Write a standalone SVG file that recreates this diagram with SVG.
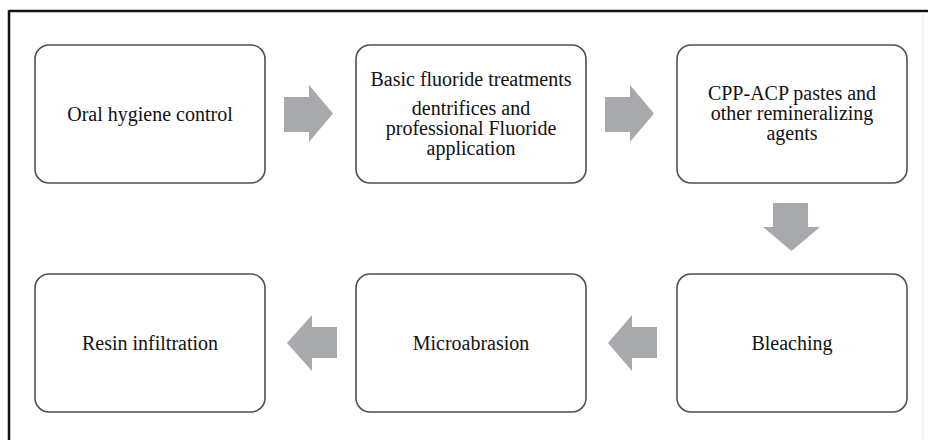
<svg xmlns="http://www.w3.org/2000/svg" width="928" height="440" viewBox="0 0 928 440">
<style>
.box{fill:#fff;stroke:#505050;stroke-width:1.6}
.t{font-family:"Liberation Serif","Times New Roman","DejaVu Serif",serif;font-size:20px;fill:#111;text-anchor:middle}
.arr{fill:#a7a9ac}
</style>
<rect width="928" height="440" fill="#fff"/>
<g id="frame">
<line x1="9" y1="11" x2="928" y2="11" stroke="#111" stroke-width="2.5"/>
<line x1="9" y1="10" x2="9" y2="440" stroke="#111" stroke-width="2.5"/>
<line x1="923" y1="12" x2="923" y2="440" stroke="#e6e6e6" stroke-width="1"/>
</g>
<g id="n1"><rect class="box" x="35" y="45" width="230" height="138" rx="14"/><text class="t" x="150" y="121">Oral hygiene control</text></g>
<g id="n2"><rect class="box" x="356" y="45" width="230" height="138" rx="14"/>
<text class="t" x="471" y="86">Basic fluoride treatments</text>
<text class="t" x="471" y="115">dentrifices and</text>
<text class="t" x="471" y="135">professional Fluoride</text>
<text class="t" x="471" y="155">application</text></g>
<g id="n3"><rect class="box" x="677" y="45" width="230" height="138" rx="14"/>
<text class="t" x="792" y="100">CPP-ACP pastes and</text>
<text class="t" x="792" y="120">other remineralizing</text>
<text class="t" x="792" y="140">agents</text></g>
<g id="n4"><rect class="box" x="677" y="274" width="230" height="138" rx="14"/><text class="t" x="792" y="350">Bleaching</text></g>
<g id="n5"><rect class="box" x="356" y="274" width="230" height="138" rx="14"/><text class="t" x="471" y="350">Microabrasion</text></g>
<g id="n6"><rect class="box" x="35" y="274" width="230" height="138" rx="14"/><text class="t" x="150" y="350">Resin infiltration</text></g>
<g id="connectors">
<polygon class="arr" points="284,97 309,97 309,85 333,113.5 309,142 309,132 284,132"/>
<polygon class="arr" points="605,97 630,97 630,85 654,113.5 630,142 630,132 605,132"/>
<polygon class="arr" points="773,203 808,203 808,227 820,227 791.5,251 763,227 773,227"/>
<polygon class="arr" points="657,327 632,327 632,315 608,343 632,371 632,358 657,358"/>
<polygon class="arr" points="337,327 312,327 312,315 287,343 312,371 312,358 337,358"/>
</g>
</svg>
